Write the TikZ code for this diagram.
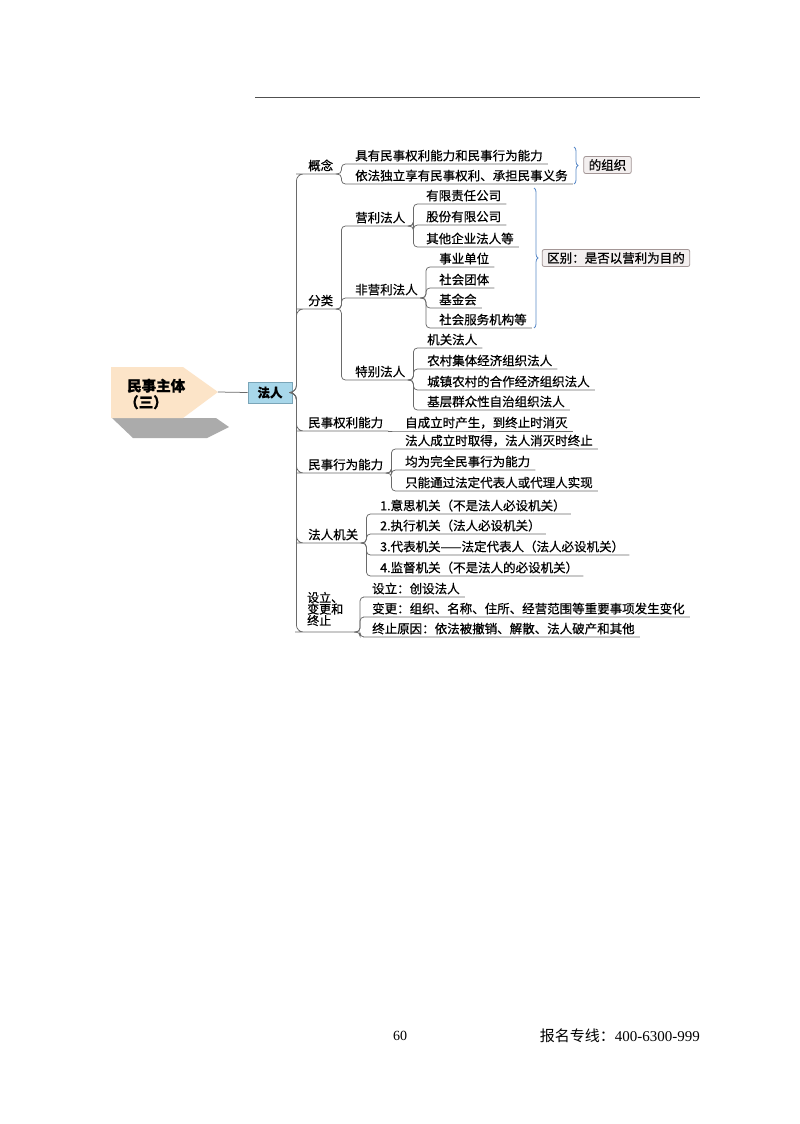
\documentclass[tikz,border=0pt]{standalone}
\usepackage{fontspec}
\setmainfont{Noto Sans CJK SC}[FakeBold=0.6]
\newfontfamily\serifnum{Liberation Serif}
\newfontfamily\footcjk{Noto Sans CJK SC}
\usetikzlibrary{decorations.pathreplacing}
\definecolor{lc}{HTML}{6A6A6A}
\definecolor{peach}{HTML}{FCE4C8}
\definecolor{frfill}{HTML}{A8D7EA}
\definecolor{frdraw}{HTML}{7AA5B8}
\definecolor{braceblue}{HTML}{5B8BC9}
\definecolor{tagf}{HTML}{F3EFEF}
\definecolor{tagb}{HTML}{A39696}
\definecolor{rulec}{HTML}{505050}
\definecolor{shadowc}{HTML}{ABABAB}
\tikzset{
  conn/.style={draw=lc, line width=0.75pt, rounded corners=4pt},
  conn1/.style={draw=lc, line width=0.75pt, rounded corners=7pt},
  item/.style={anchor=south west, inner xsep=5pt, inner ysep=2pt, text height=10pt, text depth=1.5pt, font=\fontsize{12.5}{14}\selectfont},
  tag/.style={draw=tagb, fill=tagf, line width=0.8pt, rounded corners=2pt, inner xsep=5pt, inner ysep=0pt, minimum height=17pt, font=\fontsize{12.5}{14}\selectfont},
  brc/.style={draw=braceblue, line width=0.8pt, decorate, decoration={brace, amplitude=4pt}},
}
\begin{document}
\begin{tikzpicture}[x=1pt,y=-1pt]
\useasboundingbox (0,0) rectangle (800,1124);
\fill[white] (0,0) rectangle (800,1124);
% top rule
\coordinate (ruleL) at (255,97.3);
\coordinate (ruleR) at (700,97.3);
\draw[rulec, line width=1.3pt] (ruleL) -- (ruleR);
% root
\fill[shadowc] (112,418) -- (133,438) -- (207,438) -- (229,427) -- (216,418) -- cycle;
\fill[peach] (111,367) -- (183,367) -- (218,392) -- (183,418) -- (111,418) -- cycle;
\coordinate (rootTip) at (218,392);
\node[anchor=west, align=left, inner sep=0, font=\bfseries\fontsize{14.5}{16.5}\selectfont] (root) at (127,394) {民事主体\\\hspace*{-3pt}（三）};
% faren
\node[draw=frdraw, fill=frfill, line width=0.8pt, minimum width=44pt, minimum height=21pt, inner sep=0, font=\bfseries\fontsize{12.5}{14}\selectfont] (fr) at (270,392.5) {法人};
\draw[draw=lc, line width=0.75pt] (rootTip) -- (fr.west);
% level 1
\node[item] (gn) at (303,174) {概念};
\node[item] (fl) at (303,309) {分类};
\node[item] (ql) at (303,431) {民事权利能力};
\node[item] (xw) at (303,473) {民事行为能力};
\node[item] (jg) at (303,543) {法人机关};
\node[anchor=west, align=left, inner sep=0, font=\fontsize{12}{11.5}\selectfont] (sb) at (307,609) {设立、\\变更和\\终止};
\coordinate (sbW) at (302,632);
\coordinate (sbE) at (357,632);
\draw[conn1] (fr.east) -- ++(4,0) |- (gn.south west) -- (gn.south east);
\draw[conn1] (fr.east) -- ++(4,0) |- (fl.south west) -- (fl.south east);
\draw[conn1] (fr.east) -- ++(4,0) |- (ql.south west) -- (ql.south east);
\draw[conn1] (fr.east) -- ++(4,0) |- (xw.south west) -- (xw.south east);
\draw[conn1] (fr.east) -- ++(4,0) |- (jg.south west) -- (jg.south east);
\draw[conn1] (fr.east) -- ++(4,0) |- (sbW) -- (sbE);
% gainian
\node[item] (g1) at (350,164) {具有民事权利能力和民事行为能力};
\node[item] (g2) at (350,184) {依法独立享有民事权利、承担民事义务};
\foreach \c in {g1,g2} \draw[conn] (gn.south east) -- ++(3,0) |- (\c.south west) -- (\c.south east);
\draw[brc] (574,147) -- (574,184);
\node[tag] (dz) at (607.5,165) {的组织};
% fenlei
\node[item] (yl) at (350,226) {营利法人};
\node[item] (fy) at (350,298) {非营利法人};
\node[item] (tb) at (350,380) {特别法人};
\foreach \c in {yl,fy,tb} \draw[conn] (fl.south east) -- ++(3,0) |- (\c.south west) -- (\c.south east);
\node[item] (y1) at (421,204) {有限责任公司};
\node[item] (y2) at (421,225) {股份有限公司};
\node[item] (y3) at (421,247) {其他企业法人等};
\foreach \c in {y1,y2,y3} \draw[conn] (yl.south east) -- ++(3,0) |- (\c.south west) -- (\c.south east);
\node[item] (f1) at (434,267) {事业单位};
\node[item] (f2) at (434,288) {社会团体};
\node[item] (f3) at (434,308) {基金会};
\node[item] (f4) at (434,328) {社会服务机构等};
\foreach \c in {f1,f2,f3,f4} \draw[conn] (fy.south east) -- ++(3,0) |- (\c.south west) -- (\c.south east);
\node[item] (t1) at (422,348) {机关法人};
\node[item] (t2) at (422,369) {农村集体经济组织法人};
\node[item] (t3) at (422,390) {城镇农村的合作经济组织法人};
\node[item] (t4) at (422,410) {基层群众性自治组织法人};
\foreach \c in {t1,t2,t3,t4} \draw[conn] (tb.south east) -- ++(3,0) |- (\c.south west) -- (\c.south east);
\draw[brc] (534,188) -- (534,328);
\node[tag] (qb) at (616,258) {区别：是否以营利为目的};
% quanli nengli
\node[item] (q1) at (400,431) {自成立时产生，到终止时消灭};
\draw[conn] (ql.south east) -- (q1.south west) -- (q1.south east);
% xingwei nengli
\node[item] (x1) at (400,449) {法人成立时取得，法人消灭时终止};
\node[item] (x2) at (400,470) {均为完全民事行为能力};
\node[item] (x3) at (400,491) {只能通过法定代表人或代理人实现};
\foreach \c in {x1,x2,x3} \draw[conn] (xw.south east) -- ++(3,0) |- (\c.south west) -- (\c.south east);
% jiguan
\node[item] (j1) at (375,514) {1.意思机关（不是法人必设机关）};
\node[item] (j2) at (375,534) {2.执行机关（法人必设机关）};
\node[item] (j3) at (375,555) {3.代表机关——法定代表人（法人必设机关）};
\node[item] (j4) at (375,576) {4.监督机关（不是法人的必设机关）};
\foreach \c in {j1,j2,j3,j4} \draw[conn] (jg.south east) -- ++(3,0) |- (\c.south west) -- (\c.south east);
% sheli
\node[item] (s1) at (367,597) {设立：创设法人};
\node[item] (s2) at (367,617) {变更：组织、名称、住所、经营范围等重要事项发生变化};
\node[item] (s3) at (367,637) {终止原因：依法被撤销、解散、法人破产和其他};
\foreach \c in {s1,s2,s3} \draw[conn] (sbE) -- ++(3,0) |- (\c.south west) -- (\c.south east);
% footer
\node[font=\serifnum\fontsize{14}{16}\selectfont, inner sep=0] (pg) at (400,1036) {60};
\node[anchor=east, inner sep=0, font=\footcjk\fontsize{15}{17}\selectfont] (hot) at (700,1036) {报名专线：{\serifnum 400-6300-999}};
\end{tikzpicture}
\end{document}
